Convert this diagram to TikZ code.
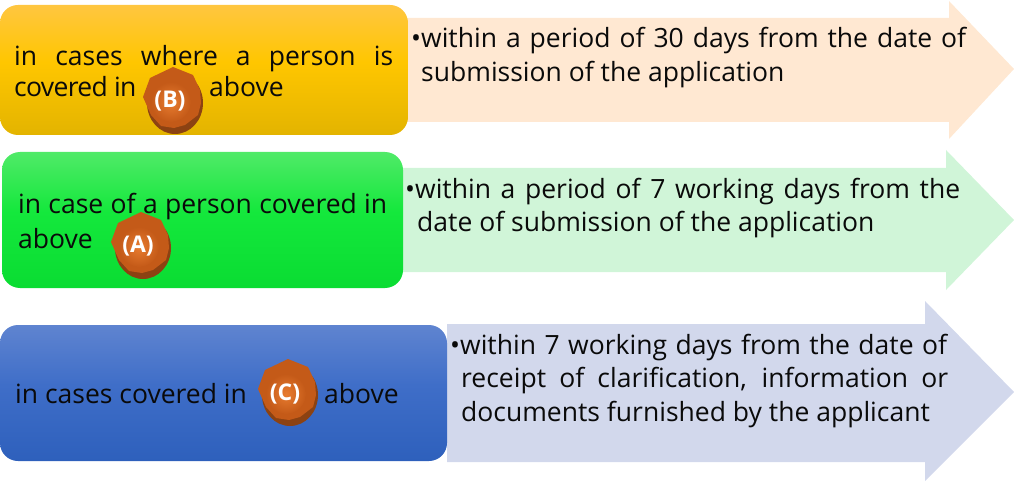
\documentclass[tikz,border=0pt]{standalone}
\usepackage{fontspec}
\setmainfont{Open Sans}
\definecolor{txt}{HTML}{0A0A0A}
\definecolor{peachfill}{HTML}{FFE8D2}
\definecolor{greenfill}{HTML}{D0F5D8}
\definecolor{bluefill}{HTML}{D2D8EC}
\definecolor{badgedark}{HTML}{8C4212}
\definecolor{badgemid}{HTML}{C45A18}
\definecolor{badgecore}{HTML}{E87C30}
\definecolor{yb}{HTML}{E3B400}\definecolor{ym}{HTML}{FFC600}\definecolor{yt}{HTML}{FFC640}
\definecolor{gb}{HTML}{0ADC32}\definecolor{gm}{HTML}{14E83C}\definecolor{gt}{HTML}{50EA68}
\definecolor{bb}{HTML}{2E60BC}\definecolor{bm}{HTML}{3F6EC8}\definecolor{bt}{HTML}{5F84D0}
\pgfdeclareverticalshading{yellowbox}{100bp}{color(0bp)=(yb);color(25bp)=(yb);color(53bp)=(ym);color(75bp)=(yt);color(100bp)=(yt)}
\pgfdeclareverticalshading{greenbox}{100bp}{color(0bp)=(gb);color(25bp)=(gb);color(53bp)=(gm);color(75bp)=(gt);color(100bp)=(gt)}
\pgfdeclareverticalshading{bluebox}{100bp}{color(0bp)=(bb);color(25bp)=(bb);color(53bp)=(bm);color(75bp)=(bt);color(100bp)=(bt)}
\tikzset{
 x=1pt,y=-1pt,
 box/.style={draw=none,rounded corners=18pt},
 label/.style={inner sep=0pt,anchor=base west,font=\fontsize{26.5}{30}\selectfont,text=txt},
 badgetext/.style={inner sep=0pt,font=\fontsize{23}{27}\selectfont\bfseries,text=white},
}
\newcommand{\badge}[3]{%
 \fill[badgedark] (#1+2,#2+3) ellipse [x radius=28,y radius=31];
 \fill[badgemid,shift={(#1,#2)}] (0,-33)--(20,-25)--(27,-10)--(28,3)--(25,15)--(12,25)--(1,28)--(-12,26)--(-22,15)--(-30,-3)--(-23,-22)--cycle;
 \shade[inner color=badgecore,outer color=badgemid] (#1-2,#2+2) circle (20);
 \node[badgetext] (#3) at (#1-3,#2+1.5) {(#3)};
}
\begin{document}
\begin{tikzpicture}
\useasboundingbox (0,0) rectangle (1014,481);
% arrows
\fill[peachfill] (400,18)--(949,18)--(949,1)--(1014,69)--(949,139)--(949,122)--(400,122)--cycle;
\fill[greenfill] (395,168)--(946,168)--(946,150)--(1014,220)--(946,290)--(946,272)--(395,272)--cycle;
\fill[bluefill] (447,324)--(925,324)--(925,301)--(1014,392)--(925,481)--(925,462)--(447,462)--cycle;
% boxes
\shade[box,shading=yellowbox] (0,5) rectangle (408,135);
\shade[box,shading=greenbox] (2,152) rectangle (403,288);
\shade[box,shading=bluebox] (0,325) rectangle (447,461);
% box text
\node[label] (t1) at (14,66) {\makebox[379pt][s]{in cases where a person is}};
\node[label] (t2) at (14,97) {\addfontfeature{LetterSpace=-2.5}covered in};
\node[label] (t3) at (209,97) {above};
\node[label] (t4) at (18,214) {\makebox[369pt][s]{in case of a person covered in}};
\node[label] (t5) at (18,248) {above};
\node[label] (t6) at (15,403) {in cases covered in};
\node[label] (t7) at (324,403) {above};
\badge{173}{100}{B}
\badge{141}{245}{A}
\badge{288}{392}{C}
% arrow text
\node[label] (a1) at (411,48) {•\makebox[545pt][s]{within a period of 30 days from the date of}};
\node[label] (a2) at (421,82) {submission of the application};
\node[label] (b1) at (405,198) {•\makebox[545pt][s]{within a period of 7 working days from the}};
\node[label] (b2) at (417,231) {date of submission of the application};
\node[label] (c1) at (450,354) {•\makebox[487pt][s]{within 7 working days from the date of}};
\node[label] (c2) at (461,387) {\makebox[487pt][s]{receipt of clarification, information or}};
\node[label] (c3) at (461,421) {documents furnished by the applicant};
\end{tikzpicture}
\end{document}
